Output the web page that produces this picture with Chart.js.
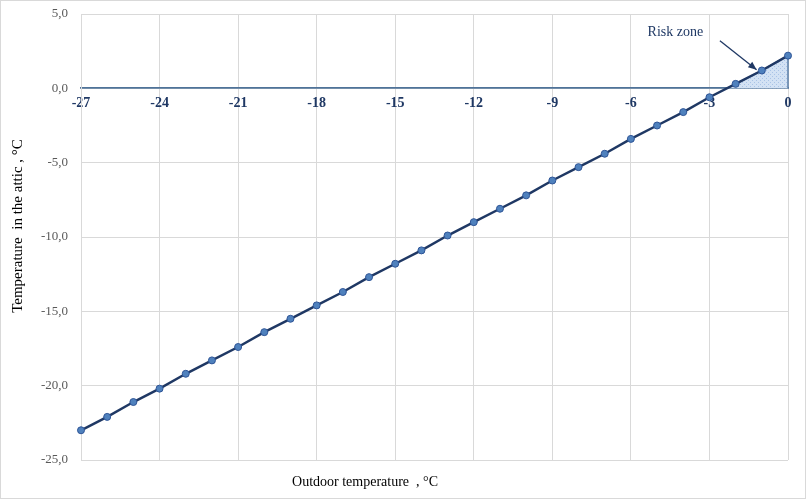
<!DOCTYPE html>
<html>
<head>
<meta charset="utf-8">
<script src="https://cdn.jsdelivr.net/npm/chart.js@4"></script>
<style>
  html, body { margin: 0; padding: 0; background: #fff; }
  #wrap { width: 806px; height: 499px; }
</style>
</head>
<body>
<div id="wrap"><canvas id="atticChart" width="806" height="499"></canvas></div>
<script>
// Outdoor temperature, °C
const outdoorTemps = [-27, -26, -25, -24, -23, -22, -21, -20, -19, -18, -17, -16, -15, -14,
                      -13, -12, -11, -10, -9, -8, -7, -6, -5, -4, -3, -2, -1, 0];
// Temperature in the attic, °C
const atticTemps = [-23.0, -22.1, -21.1, -20.2, -19.2, -18.3, -17.4, -16.4, -15.5, -14.6,
                    -13.7, -12.7, -11.8, -10.9, -9.9, -9.0, -8.1, -7.2, -6.2, -5.3,
                    -4.4, -3.4, -2.5, -1.6, -0.6, 0.3, 1.2, 2.2];
const xTicks = [-27, -24, -21, -18, -15, -12, -9, -6, -3, 0];
const yTicks = [-25, -20, -15, -10, -5, 0, 5];

const SERIF = "'Liberation Serif', 'Times New Roman', serif";

// points of the main series
const mainPoints = outdoorTemps.map((x, i) => ({ x, y: atticTemps[i] }));

// risk zone: the part of the line above 0 °C, closed down to the zero line
function buildRiskZone() {
    const pts = [];
    for (let i = 1; i < atticTemps.length; i++) {
        const y0 = atticTemps[i - 1], y1 = atticTemps[i];
        if (y0 < 0 && y1 >= 0) {
            const xc = outdoorTemps[i - 1] + (0 - y0) / (y1 - y0) * (outdoorTemps[i] - outdoorTemps[i - 1]);
            pts.push({ x: xc, y: 0 });
        }
        if (y1 >= 0) pts.push({ x: outdoorTemps[i], y: y1 });
    }
    if (pts.length) pts.push({ x: pts[pts.length - 1].x, y: 0 });
    return pts;
}

function makePattern() {
    const c = document.createElement('canvas');
    c.width = 4; c.height = 4;
    const g = c.getContext('2d');
    g.fillStyle = '#d3e2f4';
    g.fillRect(0, 0, 4, 4);
    g.fillStyle = '#a9c3e6';
    g.fillRect(0, 0, 1, 1);
    g.fillRect(2, 2, 1, 1);
    return g.createPattern(c, 'repeat');
}

// frame around the whole chart
const framePlugin = {
    id: 'frame',
    beforeDraw(chart) {
        const ctx = chart.ctx;
        ctx.save();
        ctx.fillStyle = '#fff';
        ctx.fillRect(0, 0, chart.width, chart.height);
        ctx.strokeStyle = '#d9d9d9';
        ctx.lineWidth = 1;
        ctx.strokeRect(0.5, 0.5, chart.width - 1, chart.height - 1);
        ctx.restore();
    }
};

// axis titles + "Risk zone" callout
const labelsPlugin = {
    id: 'labels',
    afterDraw(chart) {
        const ctx = chart.ctx;
        const xs = chart.scales.x, ys = chart.scales.y;
        ctx.save();
        ctx.font = '14px ' + SERIF;
        ctx.fillStyle = '#000';
        ctx.textAlign = 'center';
        ctx.textBaseline = 'middle';
        ctx.fillText('Outdoor temperature  , °C', 365, 482);

        ctx.save();
        ctx.translate(18, 226);
        ctx.rotate(-Math.PI / 2);
        ctx.font = '15px ' + SERIF;
        ctx.fillText('Temperature  in the attic , °C', 0, 0);
        ctx.restore();

        ctx.fillStyle = '#1f3864';
        ctx.fillText('Risk zone', xs.getPixelForValue(-4.3), ys.getPixelForValue(3.8));

        const x1 = xs.getPixelForValue(-2.6), y1 = ys.getPixelForValue(3.2);
        const x2 = xs.getPixelForValue(-1.2), y2 = ys.getPixelForValue(1.25);
        ctx.strokeStyle = '#1f3864';
        ctx.lineWidth = 1.3;
        ctx.beginPath();
        ctx.moveTo(x1, y1);
        ctx.lineTo(x2, y2);
        ctx.stroke();
        const a = Math.atan2(y2 - y1, x2 - x1);
        ctx.beginPath();
        ctx.moveTo(x2, y2);
        ctx.lineTo(x2 - 9 * Math.cos(a - 0.4), y2 - 9 * Math.sin(a - 0.4));
        ctx.lineTo(x2 - 9 * Math.cos(a + 0.4), y2 - 9 * Math.sin(a + 0.4));
        ctx.closePath();
        ctx.fillStyle = '#1f3864';
        ctx.fill();
        ctx.restore();
    }
};

new Chart(document.getElementById('atticChart'), {
    type: 'line',
    data: {
        datasets: [{
            label: 'Attic temperature',
            data: mainPoints,
            order: 0,
            clip: false,
            borderColor: '#1f3864',
            borderWidth: 2.5,
            pointRadius: 3.5,
            pointBackgroundColor: '#4f81bd',
            pointBorderColor: '#2f5597',
            pointBorderWidth: 1,
            tension: 0,
            fill: false
        }, {
            label: 'Risk zone',
            data: buildRiskZone(),
            order: 1,
            clip: false,
            borderColor: '#5b7fa8',
            borderWidth: 1.5,
            pointRadius: 0,
            backgroundColor: makePattern(),
            fill: 'origin',
            tension: 0
        }]
    },
    options: {
        responsive: false,
        animation: false,
        layout: { padding: { left: 0, right: 18, top: 14, bottom: 39 } },
        plugins: {
            legend: { display: false },
            tooltip: { enabled: false }
        },
        scales: {
            x: {
                type: 'linear',
                position: { y: 0 },
                min: -27,
                max: 0,
                afterBuildTicks(scale) { scale.ticks = xTicks.map(v => ({ value: v })); },
                afterFit(scale) { scale.paddingLeft = 0; scale.paddingRight = 0; },
                grid: { color: '#d9d9d9', lineWidth: 1, drawTicks: false },
                border: { color: '#4f7399', width: 1.8 },
                ticks: {
                    padding: 7,
                    color: '#1f3864',
                    font: { family: SERIF, size: 14, weight: 'bold' }
                }
            },
            y: {
                type: 'linear',
                min: -25,
                max: 5,
                afterBuildTicks(scale) { scale.ticks = yTicks.map(v => ({ value: v })); },
                afterFit(scale) {
                    scale.width = 81;
                    scale.paddingTop = 0;
                    scale.paddingBottom = 0;
                },
                grid: { color: '#d9d9d9', lineWidth: 1, drawTicks: false },
                border: { color: '#d9d9d9' },
                ticks: {
                    padding: 13,
                    color: '#595959',
                    font: { family: SERIF, size: 13 },
                    callback: v => v.toFixed(1).replace('.', ',')
                }
            }
        }
    },
    plugins: [framePlugin, labelsPlugin]
});
</script>
</body>
</html>
